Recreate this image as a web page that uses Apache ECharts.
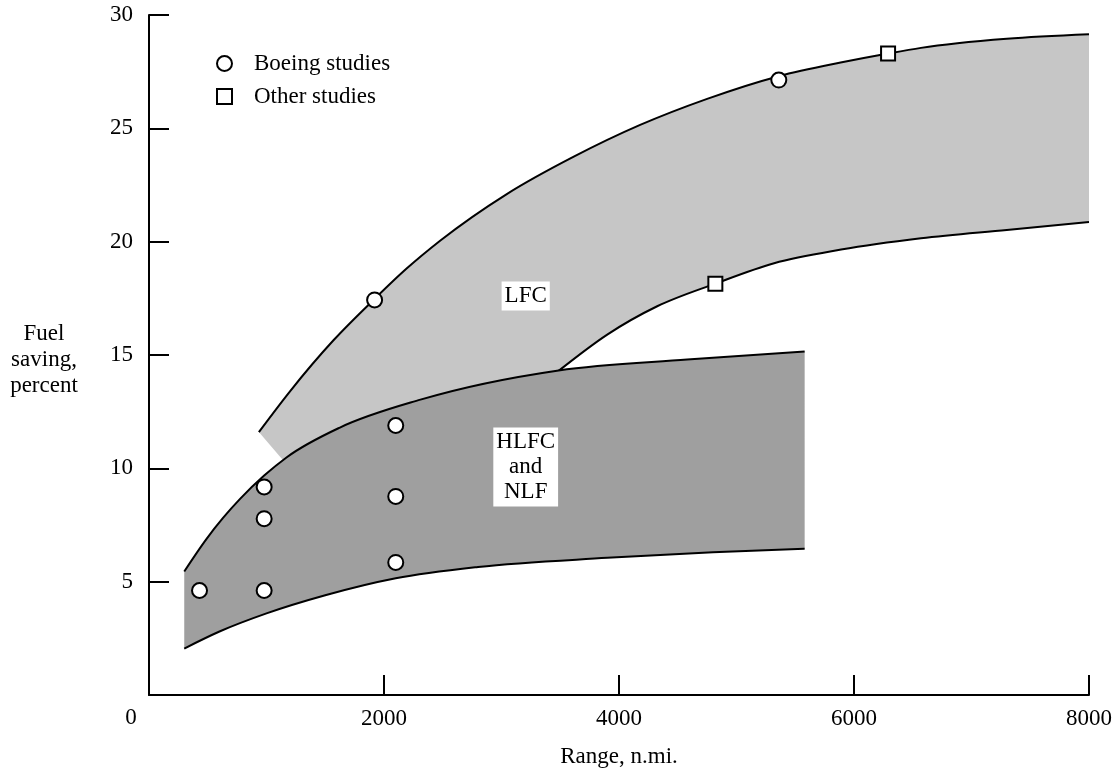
<!DOCTYPE html>
<html><head><meta charset="utf-8">
<script src="https://cdn.jsdelivr.net/npm/echarts@6/dist/echarts.min.js"></script>
<style>html,body{margin:0;padding:0;background:#fff}#c{width:1119px;height:772px}</style>
</head><body><div id="c"></div>
<script>
// ---- data ----
const xTicks = [0, 2000, 4000, 6000, 8000];
const yTicks = [0, 5, 10, 15, 20, 25, 30];

const lfcUpper = [[935,11.6],[1200,13.4],[1570,15.65],[1915,17.45],[2190,18.8],[2480,20.05],[3045,22.1],[3615,23.75],[4180,25.15],[4750,26.3],[5360,27.3],[5886,27.9],[6290,28.3],[6570,28.55],[7300,28.95],[8000,29.15]];
// visible part of the LFC lower edge (starts where it leaves the HLFC band)
const lfcLower = [[3486,14.3],[3900,15.9],[4325,17.15],[4820,18.15],[5320,19.05],[5890,19.65],[6570,20.15],[7300,20.52],[8000,20.87]];
// part of the LFC lower edge hidden under the HLFC band
const lfcLowerHidden = [[3000,13.6],[2300,12.7],[1600,11.5],[1150,10.3]];
const hlfcUpper = [[300,5.45],[490,6.89],[630,7.81],[775,8.65],[980,9.68],[1170,10.48],[1625,11.8],[2310,13.03],[3486,14.32],[4580,14.8],[5580,15.15]];
const hlfcLower = [[300,2.05],[600,2.8],[1000,3.6],[1500,4.4],[2100,5.15],[2800,5.65],[3900,6.05],[4800,6.3],[5580,6.45]];

const boeingStudies = [[430,4.61],[980,9.18],[980,7.78],[980,4.61],[1920,17.43],[2100,11.89],[2100,8.76],[2100,5.85],[5360,27.13]];
const otherStudies = [[4820,18.14],[6290,28.3]];

const bandLabelNames = ['LFC', 'HLFC\nand\nNLF'];
const bandLabelPos = [[3206,17.6],[3206,10.06]];

const legendNames = ['Boeing studies', 'Other studies'];
const xAxisTitle = 'Range, n.mi.';
const yAxisTitle = 'Fuel\nsaving,\npercent';

// ---- drawing ----
const FONT = '"Liberation Serif", "Times New Roman", serif';
const FS = 23;

// monotone cubic (in x) bezier segments through pixel points
function monoSegments(p) {
  const n = p.length, t = new Array(n);
  const s = [], h = [];
  for (let i = 0; i < n - 1; i++) { h[i] = p[i + 1][0] - p[i][0]; s[i] = (p[i + 1][1] - p[i][1]) / h[i]; }
  for (let i = 1; i < n - 1; i++) {
    const s0 = s[i - 1], s1 = s[i];
    const pp = (s0 * h[i] + s1 * h[i - 1]) / (h[i - 1] + h[i]);
    t[i] = (Math.sign(s0) + Math.sign(s1)) * Math.min(Math.abs(s0), Math.abs(s1), 0.5 * Math.abs(pp)) || 0;
  }
  if (n === 2) { t[0] = t[1] = s[0]; }
  else {
    t[0] = (3 * s[0] - t[1]) / 2;
    t[n - 1] = (3 * s[n - 2] - t[n - 2]) / 2;
  }
  const segs = [];
  for (let i = 0; i < n - 1; i++) {
    const d = h[i] / 3;
    segs.push([p[i], [p[i][0] + d, p[i][1] + d * t[i]], [p[i + 1][0] - d, p[i + 1][1] - d * t[i + 1]], p[i + 1]]);
  }
  return segs;
}
function fwdPath(p, start) {
  const segs = monoSegments(p);
  let str = (start ? 'M' : 'L') + p[0][0] + ',' + p[0][1];
  segs.forEach(function (g) { str += ' C' + g[1][0] + ',' + g[1][1] + ' ' + g[2][0] + ',' + g[2][1] + ' ' + g[3][0] + ',' + g[3][1]; });
  return str;
}
function revPath(p, start) {
  const segs = monoSegments(p).reverse();
  const last = p[p.length - 1];
  let str = (start ? 'M' : 'L') + last[0] + ',' + last[1];
  segs.forEach(function (g) { str += ' C' + g[2][0] + ',' + g[2][1] + ' ' + g[1][0] + ',' + g[1][1] + ' ' + g[0][0] + ',' + g[0][1]; });
  return str;
}

function bandSeries(upper, lower, hidden, fill, z) {
  return {
    type: 'custom', coordinateSystem: 'cartesian2d', data: [[0, 0]], silent: true, z: z,
    renderItem: function (params, api) {
      const U = upper.map(function (p) { return api.coord(p); });
      const L = lower.map(function (p) { return api.coord(p); });
      const H = hidden.map(function (p) { return api.coord(p); });
      let fillPath = fwdPath(U, true) + ' ' + revPath(L, false);
      H.forEach(function (q) { fillPath += ' L' + q[0] + ',' + q[1]; });
      fillPath += ' Z';
      return {
        type: 'group', children: [
          { type: 'path', shape: { pathData: fillPath }, style: { fill: fill, stroke: 'none' } },
          { type: 'path', shape: { pathData: fwdPath(U, true) }, style: { fill: 'none', stroke: '#000', lineWidth: 2 } },
          { type: 'path', shape: { pathData: fwdPath(L, true) }, style: { fill: 'none', stroke: '#000', lineWidth: 2 } }
        ]
      };
    }
  };
}

const chart = echarts.init(document.getElementById('c'), null, { renderer: 'canvas' });
const axisText = { fontFamily: FONT, fontSize: FS, color: '#000' };
chart.setOption({
  animation: false,
  backgroundColor: '#fff',
  grid: { left: 149, right: 30, top: 15, bottom: 77, containLabel: false, outerBoundsMode: 'none' },
  legend: {
    data: legendNames, orient: 'vertical', left: 211, top: 47,
    itemWidth: 15, itemHeight: 15, itemGap: 10,
    textStyle: { fontFamily: FONT, fontSize: FS, color: '#000', padding: [0, 0, 0, 17] }
  },
  xAxis: {
    type: 'value', min: xTicks[0], max: xTicks[xTicks.length - 1], interval: xTicks[1] - xTicks[0],
    axisLine: { show: true, lineStyle: { color: '#000', width: 2 } },
    axisTick: { show: true, inside: true, length: 20, lineStyle: { color: '#000', width: 2 } },
    splitLine: { show: false },
    axisLabel: Object.assign({ margin: 12, formatter: function (v) { return v === 0 ? '' : String(v); } }, axisText),
    name: xAxisTitle, nameLocation: 'middle', nameGap: 50, nameTextStyle: axisText
  },
  yAxis: {
    type: 'value', min: yTicks[0], max: yTicks[yTicks.length - 1], interval: yTicks[1] - yTicks[0],
    axisLine: { show: true, lineStyle: { color: '#000', width: 2 } },
    axisTick: { show: true, inside: true, length: 20, lineStyle: { color: '#000', width: 2 } },
    splitLine: { show: false },
    axisLabel: Object.assign({ margin: 16, formatter: function (v) { return v === 0 ? '' : String(v); } }, axisText)
  },
  graphic: [{
    type: 'text', x: 131, y: 718, silent: true,
    style: { text: String(xTicks[0]), font: FS + 'px "Liberation Serif"', fill: '#000', align: 'center', verticalAlign: 'middle' }
  }, {
    type: 'text', x: 44, y: 360, silent: true,
    style: { text: yAxisTitle, font: FS + 'px "Liberation Serif"', lineHeight: 26, fill: '#000', align: 'center', verticalAlign: 'middle' }
  }],
  series: [
    bandSeries(lfcUpper, lfcLower, lfcLowerHidden, '#c6c6c6', 1),
    bandSeries(hlfcUpper, hlfcLower, [], '#9f9f9f', 2),
    {
      name: legendNames[0], type: 'scatter', data: boeingStudies, symbol: 'circle', symbolSize: 15, z: 5,
      itemStyle: { color: '#fff', borderColor: '#000', borderWidth: 2, opacity: 1 }
    },
    {
      name: legendNames[1], type: 'scatter', data: otherStudies, symbol: 'rect', symbolSize: 14, z: 5,
      itemStyle: { color: '#fff', borderColor: '#000', borderWidth: 2, opacity: 1 }
    },
    {
      type: 'scatter', silent: true, symbolSize: 0, z: 6, itemStyle: { opacity: 1 },
      data: bandLabelPos.map(function (p, i) { return { value: p, name: bandLabelNames[i] }; }),
      label: {
        show: true, position: 'inside', formatter: '{b}', backgroundColor: '#fff', padding: [2, 3],
        fontFamily: FONT, fontSize: FS, lineHeight: 25, color: '#000', align: 'center'
      }
    }
  ]
});
</script>
</body></html>
